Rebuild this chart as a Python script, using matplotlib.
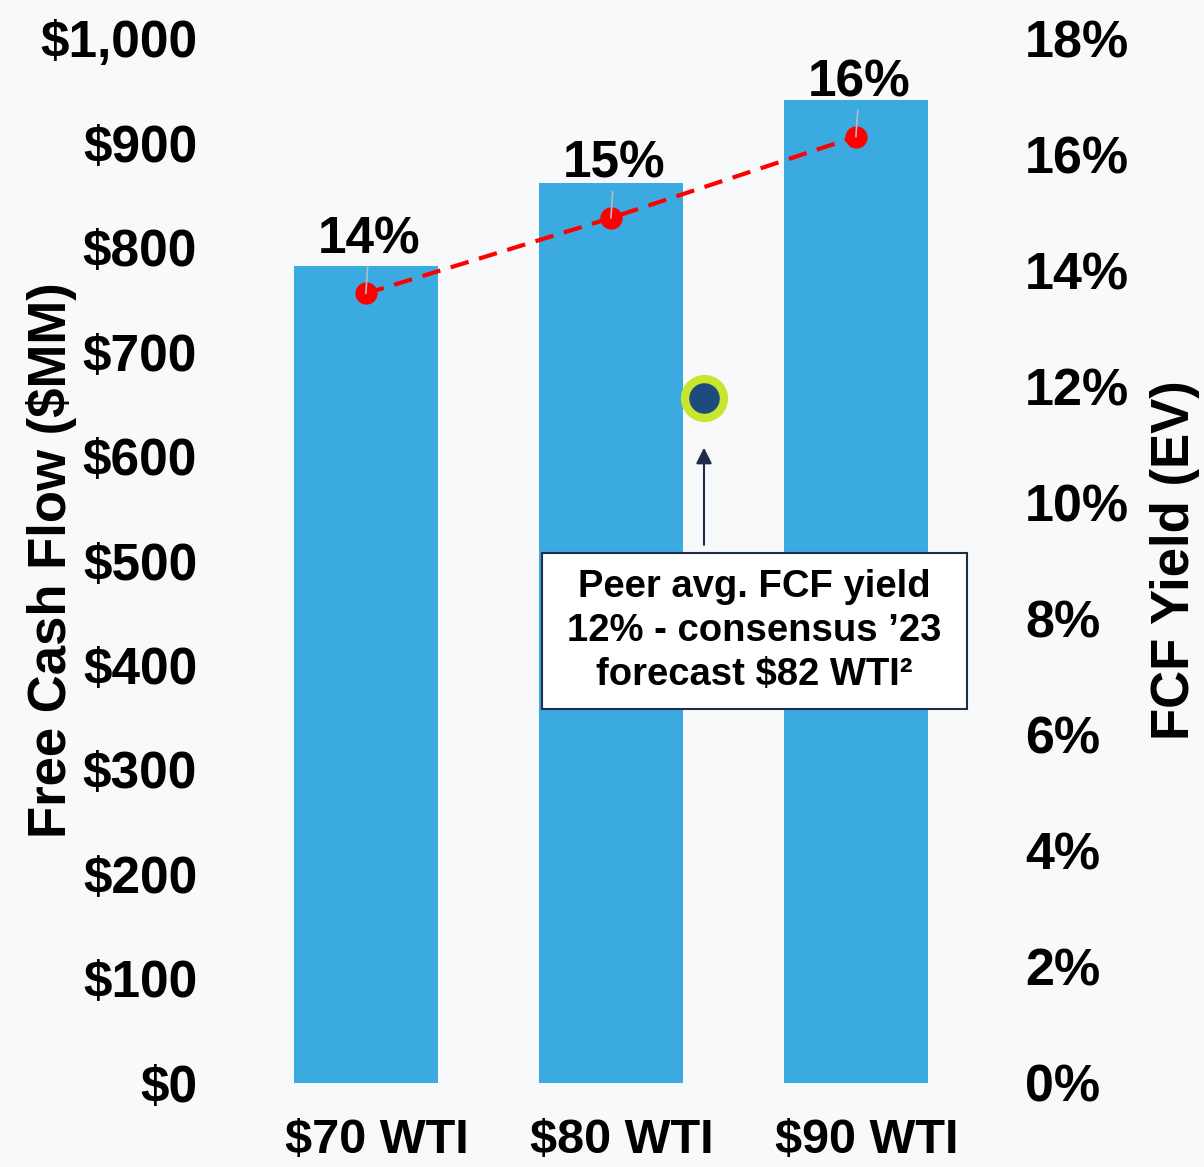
import matplotlib
matplotlib.use('Agg')
import matplotlib.pyplot as plt
from matplotlib import font_manager
from matplotlib.patches import Rectangle
from matplotlib.ticker import FuncFormatter
from matplotlib.transforms import ScaledTranslation

# Data
Scenarios = ['$70 WTI', '$80 WTI', '$90 WTI']
FreeCashFlow = [782, 861, 941]          # $MM
FcfYield = [13.6, 14.9, 16.3]           # % (EV)
YieldLabels = ['14%', '15%', '16%']
PeerPosition = 1.38                     # ~$82 WTI on the category axis
PeerYield = 11.8
PeerText = 'Peer avg. FCF yield\n12% - consensus \u201923\nforecast $82 WTI\u00b2'

LeftTicks = list(range(0, 1001, 100))
RightTicks = list(range(0, 19, 2))

BarColor = '#3BAAE0'
Background = '#F8F9FB'
Navy = '#1F2D4D'

plt.rcParams['font.family'] = ['Liberation Sans', 'DejaVu Sans']
plt.rcParams['font.weight'] = 'bold'

Names = {f.name for f in font_manager.fontManager.ttflist}
NarrowFont = 'Liberation Sans Narrow' if 'Liberation Sans Narrow' in Names else 'Liberation Sans'
NarrowSize = 38 if NarrowFont == 'Liberation Sans Narrow' else 35

Figure = plt.figure(figsize=(12.04, 11.67), dpi=100, facecolor=Background)
Axes = Figure.add_axes([0.2076, 0.072, 0.6022, 0.8954])
Axes.set_facecolor(Background)

Positions = list(range(len(Scenarios)))
Axes.bar(Positions, FreeCashFlow, width=0.588, color=BarColor, zorder=1)
Axes.set_xlim(-0.473, 2.486)
Axes.set_ylim(0, 1000)
Axes.set_yticks(LeftTicks)
Axes.yaxis.set_major_formatter(FuncFormatter(lambda v, p: '${:,.0f}'.format(v)))
Axes.tick_params(axis='y', length=0, pad=38, labelsize=37)
Axes.set_xticks(Positions)
Axes.set_xticklabels(Scenarios, fontsize=NarrowSize, fontweight='bold', family=NarrowFont)
Axes.tick_params(axis='x', length=0, pad=25)
# the category labels sit a little right of the bar centres
for lab in Axes.get_xticklabels():
    lab.set_transform(lab.get_transform() + ScaledTranslation(0.11, 0, Figure.dpi_scale_trans))
for s in Axes.spines.values():
    s.set_visible(False)
Axes.set_ylabel('Free Cash Flow ($MM)', fontsize=38, fontweight='bold')
Axes.yaxis.set_label_coords(-0.238, 0.5)

# Right axis: FCF yield
Axes2 = Axes.twinx()
Axes2.set_ylim(0, 18)
Axes2.set_yticks(RightTicks)
Axes2.yaxis.set_major_formatter(FuncFormatter(lambda v, p: '{:.0f}%'.format(v)))
Axes2.tick_params(axis='y', length=0, pad=36, labelsize=37.5)
for s in Axes2.spines.values():
    s.set_visible(False)
Axes2.set_ylabel('FCF Yield (EV)', fontsize=38, fontweight='bold', rotation=90)
Axes2.yaxis.set_label_coords(1.242, 0.5)

Axes2.plot(Positions, FcfYield, color='#FF0000', linestyle=(0, (4.5, 2.6)), linewidth=3,
           marker='o', markersize=15, zorder=3)
for x, y, lab in zip(Positions, FcfYield, YieldLabels):
    Axes2.annotate(lab, xy=(x, y), xytext=(0.015 + x, y + 0.5), ha='center', va='bottom',
                   fontsize=37, fontweight='bold',
                   arrowprops=dict(arrowstyle='-', color='#B8BCC8', linewidth=1.2,
                                   shrinkA=0, shrinkB=0))

# Peer average marker
Axes2.plot([PeerPosition], [PeerYield], marker='o', markersize=28, markerfacecolor='#1F4A7C',
           markeredgecolor='#C8E62E', markeredgewidth=6, linestyle='none', zorder=4)

Axes.annotate('', xy=(PeerPosition, 608), xytext=(PeerPosition, 515),
              arrowprops=dict(arrowstyle='-|>', color=Navy, linewidth=1.5,
                              mutation_scale=24, shrinkA=0, shrinkB=0), zorder=4)
Axes.add_patch(Rectangle((0.718, 358), 1.735, 149, facecolor='white', edgecolor=Navy,
                         linewidth=1.5, zorder=5))
Axes.text(1.586, 432.5, PeerText, ha='center', va='center', fontsize=27.5, fontweight='bold',
          linespacing=1.27, zorder=6)

Figure.savefig('out.png', dpi=100, facecolor=Background)
